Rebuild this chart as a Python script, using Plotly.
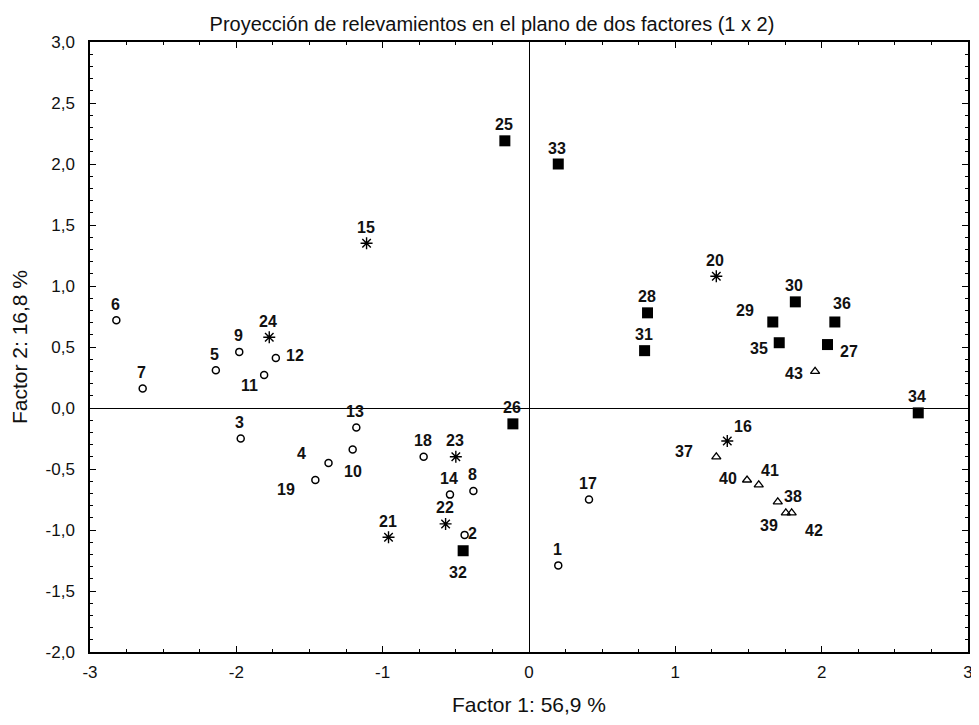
import plotly.graph_objects as go

# ---- data ----
circle_ids = ["1", "2", "3", "4", "5", "6", "7", "8", "9", "10", "11", "12", "13", "14", "17", "18", "19"]
circle_x = [0.20, -0.44, -1.97, -1.37, -2.14, -2.82, -2.64, -0.38, -1.98, -1.205, -1.81, -1.73, -1.18, -0.54, 0.41, -0.72, -1.46]
circle_y = [-1.29, -1.04, -0.25, -0.45, 0.31, 0.72, 0.16, -0.68, 0.46, -0.34, 0.27, 0.41, -0.16, -0.71, -0.75, -0.40, -0.59]

star_ids = ["15", "16", "20", "21", "22", "23", "24"]
star_x = [-1.11, 1.355, 1.28, -0.96, -0.57, -0.50, -1.775]
star_y = [1.35, -0.27, 1.08, -1.06, -0.95, -0.40, 0.58]

square_ids = ["25", "26", "27", "28", "29", "30", "31", "32", "33", "34", "35", "36"]
square_x = [-0.165, -0.11, 2.04, 0.81, 1.666, 1.82, 0.79, -0.45, 0.20, 2.66, 1.71, 2.09]
square_y = [2.19, -0.13, 0.52, 0.78, 0.705, 0.87, 0.47, -1.17, 2.00, -0.04, 0.535, 0.705]

tri_ids = ["37", "38", "39", "40", "41", "42", "43"]
tri_x = [1.28, 1.70, 1.755, 1.49, 1.57, 1.795, 1.955]
tri_y = [-0.40, -0.77, -0.86, -0.59, -0.63, -0.86, 0.30]

x_tickvals = [-3, -2, -1, 0, 1, 2, 3]
x_ticktext = ["-3", "-2", "-1", "0", "1", "2", "3"]
y_tickvals = [3.0, 2.5, 2.0, 1.5, 1.0, 0.5, 0.0, -0.5, -1.0, -1.5, -2.0]
y_ticktext = ["3,0", "2,5", "2,0", "1,5", "1,0", "0,5", "0,0", "-0,5", "-1,0", "-1,5", "-2,0"]

# ---- label placement (pixel offsets of label centre from marker: dx, dy-up) ----
label_offsets = {
    "12": (19, 2), "11": (-15, -10), "10": (0, -22), "4": (-27, 9), "19": (-29, -10),
    "2": (8, 1), "32": (-5, -22), "16": (16, 14), "37": (-32, 5), "40": (-19, 1),
    "41": (11, 14), "38": (15, 5), "39": (-17, -13), "42": (22, -18), "29": (-28, 11),
    "35": (-20, -6), "36": (7, 18), "27": (21, -7), "43": (-21, -2),
}
default_offset = (-1, 16)

fig = go.Figure()

line_col = "#000000"
fig.add_trace(go.Scatter(x=circle_x, y=circle_y, mode="markers",
                         marker=dict(symbol="circle-open", size=7, color=line_col, line=dict(width=1.5))))
fig.add_trace(go.Scatter(x=star_x, y=star_y, mode="markers",
                         marker=dict(symbol="asterisk-open", size=10, color=line_col, line=dict(width=1.4))))
fig.add_trace(go.Scatter(x=square_x, y=square_y, mode="markers",
                         marker=dict(symbol="square", size=11, color=line_col, line=dict(width=0))))
fig.add_trace(go.Scatter(x=tri_x, y=tri_y, mode="markers",
                         marker=dict(symbol="triangle-up-open", size=8, color=line_col, line=dict(width=1.3))))

annotations = []
for ids, xs, ys in [(circle_ids, circle_x, circle_y), (star_ids, star_x, star_y),
                    (square_ids, square_x, square_y), (tri_ids, tri_x, tri_y)]:
    for i, x, y in zip(ids, xs, ys):
        dx, dy = label_offsets.get(i, default_offset)
        annotations.append(dict(x=x, y=y, text=i, showarrow=False, xshift=dx, yshift=dy,
                                font=dict(family="Liberation Sans", size=16, color="#111", weight="bold")))

# the page body adds an 8px offset, so the figure is slightly smaller than the window
fig.update_layout(
    width=968, height=709,
    margin=dict(l=82, r=8, t=34, b=65),
    paper_bgcolor="white", plot_bgcolor="white",
    showlegend=False,
    annotations=annotations,
    title=dict(text="Proyección de relevamientos en el plano de dos factores (1 x 2)",
               x=0.5, xanchor="center", y=0.988, yanchor="top",
               font=dict(family="Liberation Sans", size=20, color="#111")),
    font=dict(family="Liberation Sans", size=17, color="#111"),
)

fig.update_xaxes(range=[-3, 3], tickvals=x_tickvals, ticktext=x_ticktext, automargin=False,
                 showgrid=False, zeroline=True, zerolinecolor="black", zerolinewidth=1.2,
                 showline=True, linecolor="black", linewidth=1.5, mirror="ticks",
                 ticks="inside", ticklen=6, tickcolor="black", ticklabelstandoff=4,
                 minor=dict(dtick=0.25, ticks="inside", ticklen=3, tickcolor="black"),
                 title=dict(text="Factor 1: 56,9 %", font=dict(size=21), standoff=16),
                 tickfont=dict(size=17))
fig.update_yaxes(range=[-2, 3], tickvals=y_tickvals, ticktext=y_ticktext, automargin=False,
                 showgrid=False, zeroline=True, zerolinecolor="black", zerolinewidth=1.2,
                 showline=True, linecolor="black", linewidth=1.5, mirror="ticks",
                 ticks="inside", ticklen=6, tickcolor="black", ticklabelstandoff=10,
                 minor=dict(dtick=0.1, ticks="inside", ticklen=3, tickcolor="black"),
                 title=dict(text="Factor 2: 16,8 %", font=dict(size=21), standoff=20),
                 tickfont=dict(size=17))

fig.write_html("out.html")
